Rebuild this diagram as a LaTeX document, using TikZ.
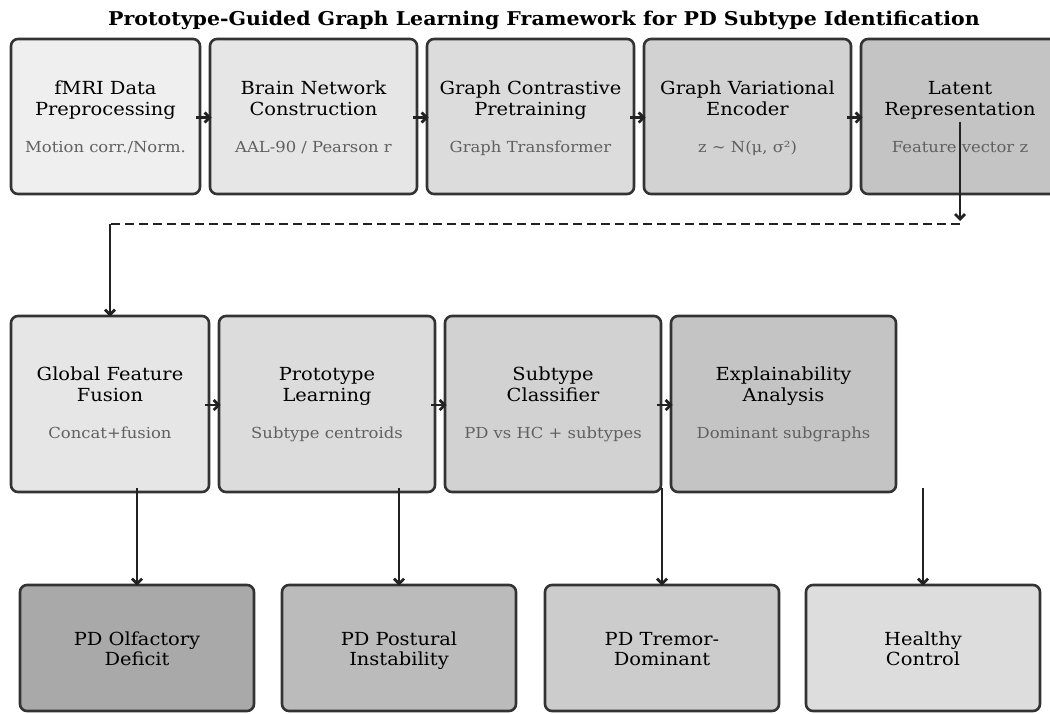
\documentclass[tikz,border=0pt]{standalone}
\usepackage{fontspec}
\setmainfont{DejaVu Serif}[FakeStretch=1.08]
\usetikzlibrary{arrows.meta}
\definecolor{boxline}{HTML}{333333}
\definecolor{arrcol}{HTML}{222222}
\definecolor{subcol}{HTML}{606060}
\definecolor{cA}{HTML}{EFEFEF}
\definecolor{cB}{HTML}{E6E6E6}
\definecolor{cC}{HTML}{DCDCDC}
\definecolor{cD}{HTML}{D2D2D2}
\definecolor{cE}{HTML}{C4C4C4}
\definecolor{cF}{HTML}{A9A9A9}
\definecolor{cG}{HTML}{BBBBBB}
\definecolor{cH}{HTML}{CCCCCC}
\definecolor{cI}{HTML}{DDDDDD}
\newcommand{\twol}[2]{\strut #1\\\strut #2}
\tikzset{
  box/.style={draw=boxline, line width=2.6pt, rounded corners=7pt, inner sep=0pt},
  ttl/.style={font=\fontsize{18}{20.7}\selectfont, text=black, align=center, inner sep=0pt},
  ttlc/.style={font=\fontsize{18}{18.8}\selectfont, text=black, align=center, inner sep=0pt},
  sub/.style={font=\fontsize{15.2}{17}\selectfont\strut, text=subcol, align=center, inner sep=0pt},
  arr/.style={draw=arrcol, line width=2.8pt, -{Straight Barb[length=5pt,width=10pt]}},
  dashline/.style={draw=arrcol, line width=2.3pt, dash pattern=on 9pt off 5pt},
}
\begin{document}
\begin{tikzpicture}[x=1pt,y=-1pt]
\useasboundingbox (0,0) rectangle (1050,713);
\clip (0,0) rectangle (1050,713);
\fill[white] (0,0) rectangle (1050,713);
\node[font=\fontsize{19}{20}\selectfont\bfseries, inner sep=0pt, anchor=base] (title) at (544,25) {Prototype-Guided Graph Learning Framework for PD Subtype Identification};
% row 1
\node[box, fill=cA, minimum width=189pt, minimum height=155pt] (b1) at (105.5,116.5) {};
\node[box, fill=cB, minimum width=207pt, minimum height=155pt] (b2) at (313.5,116.5) {};
\node[box, fill=cC, minimum width=207pt, minimum height=155pt] (b3) at (530.5,116.5) {};
\node[box, fill=cD, minimum width=207pt, minimum height=155pt] (b4) at (747.5,116.5) {};
\node[box, fill=cE, minimum width=198pt, minimum height=155pt] (b5) at (960,116.5) {};
\foreach \n/\a/\b/\c in {b1/fMRI Data/Preprocessing/{Motion corr./Norm.},
                      b2/Brain Network/Construction/{AAL-90 / Pearson r},
                      b3/Graph Contrastive/Pretraining/{Graph Transformer},
                      b4/Graph Variational/Encoder/{z \char"223C{} N(\char"03BC, \char"03C3\char"00B2)},
                      b5/Latent/Representation/{Feature vector z}}{
  \node[ttl] (\n t) at ([yshift=15.3pt]\n.center) {\twol{\a}{\b}};
  \node[sub] (\n s) at ([yshift=-32.1pt]\n.center) {\c};
}
% row 2
\node[box, fill=cB, minimum width=198pt, minimum height=176pt] (b6) at (110,404) {};
\node[box, fill=cC, minimum width=216pt, minimum height=176pt] (b7) at (327,404) {};
\node[box, fill=cD, minimum width=216pt, minimum height=176pt] (b8) at (553,404) {};
\node[box, fill=cE, minimum width=225pt, minimum height=176pt] (b9) at (783.5,404) {};
\foreach \n/\a/\b/\c in {b6/Global Feature/Fusion/{Concat+fusion},
                      b7/Prototype/Learning/{Subtype centroids},
                      b8/Subtype/Classifier/{PD vs HC + subtypes},
                      b9/Explainability/Analysis/{Dominant subgraphs}}{
  \node[ttl] (\n t) at ([yshift=17pt]\n.center) {\twol{\a}{\b}};
  \node[sub] (\n s) at ([yshift=-30.9pt]\n.center) {\c};
}
% row 3
\node[box, fill=cF, minimum width=234pt, minimum height=126pt] (b10) at (137,648) {};
\node[box, fill=cG, minimum width=234pt, minimum height=126pt] (b11) at (399,648) {};
\node[box, fill=cH, minimum width=234pt, minimum height=126pt] (b12) at (662,648) {};
\node[box, fill=cI, minimum width=234pt, minimum height=126pt] (b13) at (923,648) {};
\node[ttlc] (b10t) at ([yshift=-3.6pt]b10.center) {\twol{PD Olfactory}{Deficit}};
\node[ttlc] (b11t) at ([yshift=-3.6pt]b11.center) {\twol{PD Postural}{Instability}};
\node[ttlc] (b12t) at ([yshift=-3.6pt]b12.center) {\twol{PD Tremor-}{Dominant}};
\node[ttlc] (b13t) at ([yshift=-3.6pt]b13.center) {\twol{Healthy}{Control}};
% horizontal arrows
\foreach \p/\q in {b1/b2,b2/b3,b3/b4,b4/b5,b6/b7,b7/b8,b8/b9}{
  \draw[arr] ([xshift=-5pt,yshift=-1pt]\p.east) -- ([xshift=3pt,yshift=-1pt]\q.west);
}
% latent to fusion
\coordinate (d1) at (960,224);
\coordinate (d2) at (110,224);
\draw[arr] ([yshift=-5pt]b5.center) -- ([yshift=3pt]d1);
\draw[dashline] (d1) -- (d2);
\draw[arr] (d2) -- ([yshift=-2pt]b6.north);
% down arrows
\draw[arr] ([yshift=5pt]b6.south -| b10.north) -- ([yshift=-2pt]b10.north);
\draw[arr] ([yshift=5pt]b7.south -| b11.north) -- ([yshift=-2pt]b11.north);
\draw[arr] ([yshift=5pt]b8.south -| b12.north) -- ([yshift=-2pt]b12.north);
\draw[arr] ([yshift=5pt]b9.south -| b13.north) -- ([yshift=-2pt]b13.north);
\end{tikzpicture}
\end{document}
